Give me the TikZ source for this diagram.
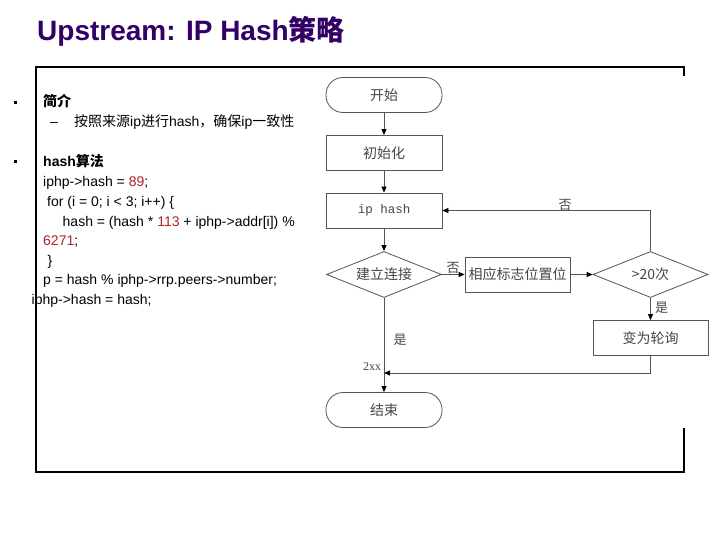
\documentclass[tikz,border=0pt]{standalone}
\usepackage{fontspec}
\setmainfont{Liberation Sans}
\newfontfamily\cjk{Noto Sans CJK SC}
\newfontfamily\serifl{Liberation Serif}
\newfontfamily\monol{Liberation Mono}
\usetikzlibrary{arrows.meta,shapes.geometric}
\definecolor{titlec}{RGB}{51,0,102}
\definecolor{codered}{RGB}{178,34,34}
\definecolor{fcline}{RGB}{85,85,85}
\definecolor{fctext}{RGB}{70,70,70}
\begin{document}
\begin{tikzpicture}[x=1pt,y=-1pt,
  txt/.style={anchor=base west,inner sep=0pt,font=\fontsize{14}{16}\selectfont},
  fcbox/.style={draw=fcline,line width=0.8pt,minimum width=116pt,minimum height=35pt,inner sep=0pt,font=\cjk\fontsize{14}{16}\selectfont,text=fctext},
  stadium/.style={fcbox,rounded corners=17pt},
  dia/.style={diamond,draw=fcline,line width=0.8pt,inner sep=0pt,aspect=2.5,minimum width=115pt,minimum height=46pt,font=\cjk\fontsize{14}{16}\selectfont,text=fctext},
  arr/.style={draw=fcline,line width=0.8pt,-{Triangle[length=6pt,width=5pt,color=black]}},
  lab/.style={inner sep=0pt,font=\cjk\fontsize{13}{15}\selectfont,text=fctext}]
\useasboundingbox (0,0) rectangle (720,540);
\fill[white] (0,0) rectangle (720,540);

% title
\node[anchor=base west,inner sep=0pt,text=titlec,font=\bfseries\fontsize{28}{30}\selectfont] (title) at (37,41) {Upstream: IP Hash{\cjk\bfseries 策略}};

% frame
\draw[line width=1.2pt] (684,76) -- (684,67) -- (36,67) -- (36,472) -- (684,472) -- (684,428);

% bullets
\fill (14,101) rectangle (17,104);
\fill (14,160) rectangle (17,163);

% left text
\node[txt] (intro) at (43,107) {{\cjk\bfseries 简介}};
\node[txt] (dash) at (50,127) {–};
\node[txt] (introtxt) at (74,127) {{\cjk 按照来源}ip{\cjk 进行}hash{\cjk ，确保}ip{\cjk 一致性}};
\node[txt] (algo) at (43,167) {\bfseries hash{\cjk\bfseries 算法}};
\node[txt] (c1) at (43,187) {iphp->hash = {\color{codered}89};};
\node[txt] (c2) at (47,206.5) {for (i = 0; i < 3; i++) \{};
\node[txt] (c3) at (62.5,226) {hash = (hash * {\color{codered}113} + iphp->addr[i]) \%};
\node[txt] (c4) at (43,245.5) {{\color{codered}6271};};
\node[txt] (c5) at (47.5,265) {\}};
\node[txt] (c6) at (43,284.5) {p = hash \% iphp->rrp.peers->number;};
\node[txt] (c7) at (31.5,304) {iphp->hash = hash;};

% flowchart
\node[stadium] (start) at (384,95) {开始};
\node[fcbox] (init) at (384,153) {初始化};
\node[fcbox,font=\monol\fontsize{12.5}{14}\selectfont] (iph) at (384,210.5) {ip hash};
\node[dia] (d1) at (384,274.5) {建立连接};
\node[fcbox,minimum width=105pt] (flag) at (517.5,274.5) {相应标志位置位};
\node[dia] (d2) at (650.5,274.5) {>20次};
\node[fcbox,minimum width=115pt] (poll) at (650.5,338) {变为轮询};
\node[stadium] (end) at (384,410) {结束};
\coordinate (j) at (384,373);

\draw[arr] (start) -- (init);
\draw[arr] (init) -- (iph);
\draw[arr] (iph) -- (d1);
\draw[arr] (d1) -- (flag);
\draw[arr] (flag) -- (d2);
\draw[arr] (d2.north) |- (iph.east);
\draw[arr] (d2) -- (poll);
\draw[arr] (d1) -- (end);
\draw[arr] (poll.south) |- (j);

\node[lab] (no1) at (453,268) {否};
\node[lab] (no2) at (565,205) {否};
\node[lab] (yes1) at (661.5,308) {是};
\node[lab] (yes2) at (400,340) {是};
\node[inner sep=0pt,font=\serifl\fontsize{12}{14}\selectfont,text=fctext] (xx) at (372,367) {2xx};
\end{tikzpicture}
\end{document}
